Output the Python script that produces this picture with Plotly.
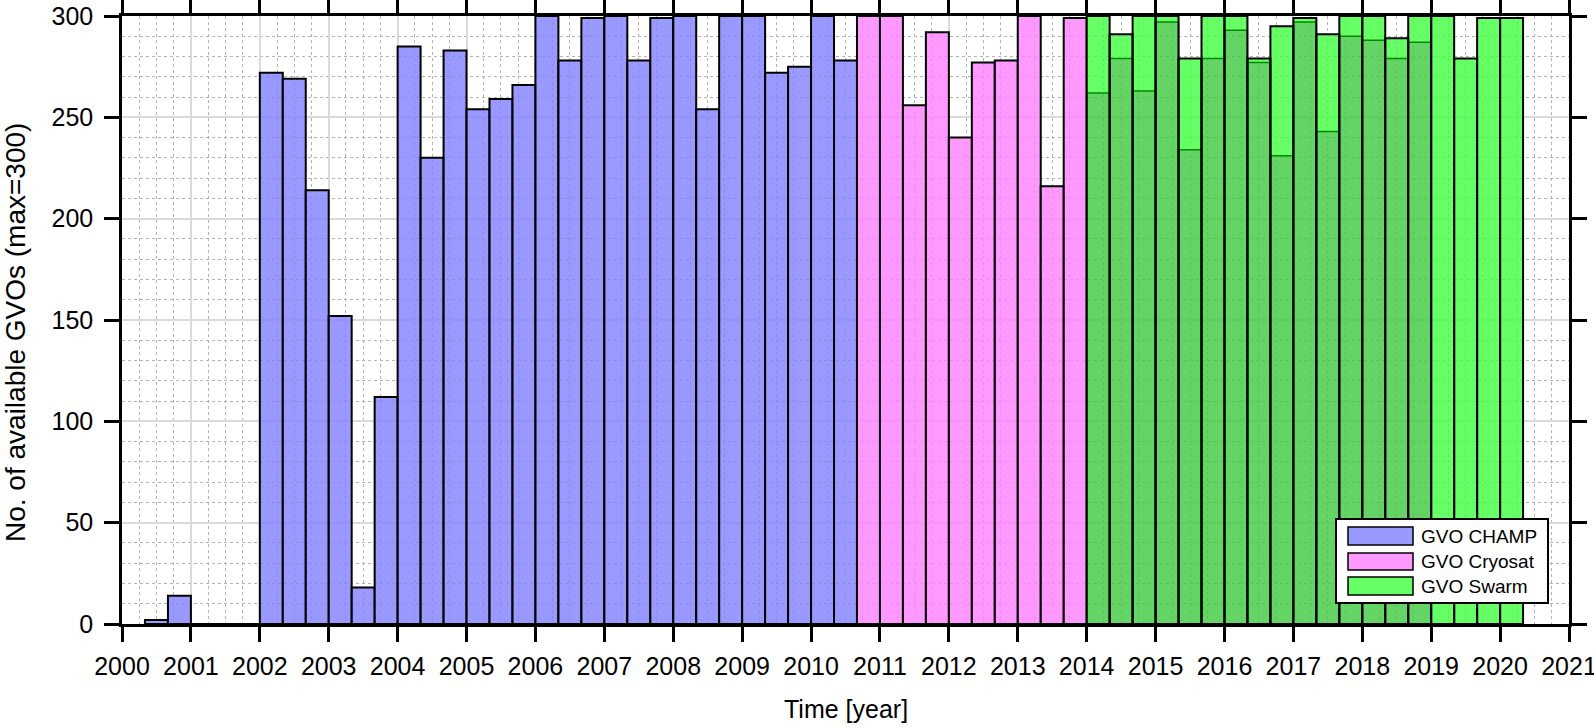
import numpy as np
import plotly.graph_objects as go

# 4-month bins from 2000 to 2021 (63 bins), values = number of GVOs per bin
bin_width = 1 / 3
bin_starts = 2000 + np.arange(63) * bin_width

# CHAMP: bins 1..31 (2000.33 - 2010.67)
champ_first = 1
champ = [2, 14, 0, 0, 0,
         272, 269, 214, 152, 18, 112, 285, 230, 283, 254, 259, 266,
         300, 278, 299, 300, 278, 299, 300, 254, 300, 300, 272, 275,
         300, 278]

# Cryosat: bins 32..41 (2010.67 - 2014.0)
cryo_first = 32
cryosat = [300, 300, 256, 292, 240, 277, 278, 300, 216, 299]

# Swarm: bins 42..60 (2014.0 - 2020.33); two overlapping counts per bin
swarm_first = 42
swarm_upper = [300, 291, 300, 300, 279, 300, 300, 279, 295, 299,
               291, 300, 300, 289, 300, 300, 279, 299, 299]
swarm_lower = [262, 279, 263, 297, 234, 279, 293, 277, 231, 297,
               243, 290, 288, 279, 287, 0, 0, 0, 0]

names = ["GVO CHAMP", "GVO Cryosat", "GVO Swarm"]
solid_cols = ["rgb(153,153,255)", "rgb(255,153,255)", "rgb(102,255,102)"]

FONT = "Arial, Liberation Sans, sans-serif"


def centers(first, n):
    return bin_starts[first:first + n] + bin_width / 2


fig = go.Figure()

fig.add_trace(go.Bar(
    x=centers(champ_first, len(champ)), y=champ, width=bin_width,
    marker=dict(color="rgba(128,128,255,0.8)", line=dict(color="black", width=2)),
    name=names[0], showlegend=False))

fig.add_trace(go.Bar(
    x=centers(cryo_first, len(cryosat)), y=cryosat, width=bin_width,
    marker=dict(color="rgba(255,128,255,0.8)", line=dict(color="black", width=2)),
    name=names[1], showlegend=False))

# Swarm: bright part between lower and upper, darker overlap part below
xs = centers(swarm_first, len(swarm_upper))
up = np.array(swarm_upper, dtype=float)
lo = np.array(swarm_lower, dtype=float)
fig.add_trace(go.Bar(
    x=xs, y=up - lo, base=lo, width=bin_width,
    marker=dict(color="rgba(64,255,64,0.8)", line=dict(width=0)),
    showlegend=False))
fig.add_trace(go.Bar(
    x=xs, y=[v if v > 0 else None for v in swarm_lower], width=bin_width,
    marker=dict(color="rgba(61,201,61,0.8)", line=dict(color="rgb(0,140,0)", width=1.5)),
    showlegend=False))
fig.add_trace(go.Bar(
    x=xs, y=swarm_upper, width=bin_width,
    marker=dict(color="rgba(0,0,0,0)", line=dict(color="black", width=2)),
    name=names[2], showlegend=False))

# pixel -> paper helpers (plot area 122..1569 x 16..624)
L, R, T, B = 122, 1569, 16, 624


def px(x):
    return (x - L) / (R - L)


def py(y):
    return (B - y) / (B - T)


shapes = [dict(type="rect", xref="paper", yref="paper",
               x0=px(1336), x1=px(1548), y0=py(603), y1=py(519),
               fillcolor="white", line=dict(color="black", width=2))]
annotations = []
sw_y = [(527, 545), (553, 570), (577, 595)]
for (y0, y1), c, n in zip(sw_y, solid_cols, names):
    shapes.append(dict(type="rect", xref="paper", yref="paper",
                       x0=px(1348), x1=px(1413), y0=py(y1), y1=py(y0),
                       fillcolor=c, line=dict(color="black", width=1.5)))
    annotations.append(dict(xref="paper", yref="paper", x=px(1419), y=py((y0 + y1) / 2),
                            text=n, showarrow=False, xanchor="left", yanchor="middle",
                            font=dict(family=FONT, size=19, color="black")))

annotations.append(dict(xref="paper", yref="paper", x=0.5, y=py(709),
                        text="Time [year]", showarrow=False,
                        xanchor="center", yanchor="middle",
                        font=dict(family=FONT, size=25, color="black")))
annotations.append(dict(xref="paper", yref="paper", x=px(16), y=py(333),
                        text="No. of available GVOs (max=300)", showarrow=False,
                        textangle=-90, xanchor="center", yanchor="middle",
                        font=dict(family=FONT, size=28, color="black")))

fig.update_layout(
    barmode="overlay",
    width=1594, height=728,
    margin=dict(l=L, r=1594 - R, t=T, b=728 - B, autoexpand=False),
    plot_bgcolor="white", paper_bgcolor="white",
    font=dict(family=FONT, size=25, color="black"),
    shapes=shapes, annotations=annotations,
    showlegend=False,
)

axis_common = dict(
    ticks="outside", ticklen=15, tickwidth=2.5, tickcolor="black",
    showline=True, linewidth=2.5, linecolor="black", mirror="allticks",
    showgrid=True, gridcolor="rgb(218,218,218)", gridwidth=1.5,
    zeroline=False, tickfont=dict(size=25), automargin=False,
)
fig.update_xaxes(
    range=[2000, 2021], tick0=2000, dtick=1, ticklabelstandoff=3,
    ticklabeloverflow="allow",
    minor=dict(dtick=0.25, showgrid=True, gridcolor="rgb(180,180,180)",
               griddash="dot", gridwidth=1),
    **axis_common,
)
fig.update_yaxes(
    range=[0, 300], tick0=0, dtick=50, ticklabelstandoff=6,
    minor=dict(dtick=10, showgrid=True, gridcolor="rgb(180,180,180)",
               griddash="dot", gridwidth=1),
    **axis_common,
)

# drop the default 8px body margin so the figure sits at the window origin
fig.write_html("out.html", config={"displayModeBar": False},
               post_script="document.body.style.margin='0';")
